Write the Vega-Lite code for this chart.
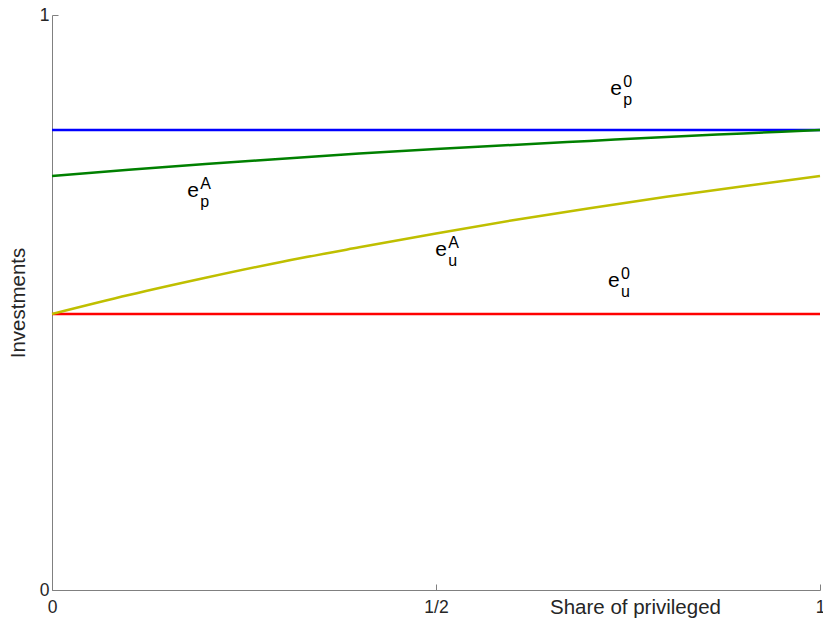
{
  "$schema": "https://vega.github.io/schema/vega-lite/v6.json",
  "width": 768,
  "height": 575,
  "autosize": {"type": "none"},
  "padding": {"left": 52, "top": 15, "right": 3, "bottom": 31},
  "background": "white",
  "config": {
    "view": {"stroke": null},
    "font": "Liberation Sans",
    "axis": {"grid": false, "domainColor": "#808080", "tickColor": "#808080", "labelColor": "#262626", "titleColor": "#262626", "labelFont": "Liberation Sans", "titleFont": "Liberation Sans", "labelFontSize": 17.5, "titleFontSize": 20.5, "titleFontWeight": "normal", "tickSize": -6, "domainWidth": 1, "tickWidth": 1}
  },
  "datasets": {
    "curves": [
      {"x": 0, "y": 0.8, "s": "ep0"}, {"x": 1, "y": 0.8, "s": "ep0"},
      {"x": 0, "y": 0.48, "s": "eu0"}, {"x": 1, "y": 0.48, "s": "eu0"},
      {"x": 0, "y": 0.72, "s": "epA"}, {"x": 0.1, "y": 0.731, "s": "epA"}, {"x": 0.2, "y": 0.741, "s": "epA"}, {"x": 0.3, "y": 0.750, "s": "epA"}, {"x": 0.4, "y": 0.759, "s": "epA"}, {"x": 0.5, "y": 0.767, "s": "epA"}, {"x": 0.6, "y": 0.774, "s": "epA"}, {"x": 0.7, "y": 0.781, "s": "epA"}, {"x": 0.8, "y": 0.788, "s": "epA"}, {"x": 0.9, "y": 0.794, "s": "epA"}, {"x": 1, "y": 0.8, "s": "epA"},
      {"x": 0, "y": 0.48, "s": "euA"}, {"x": 0.1, "y": 0.513, "s": "euA"}, {"x": 0.2, "y": 0.543, "s": "euA"}, {"x": 0.3, "y": 0.571, "s": "euA"}, {"x": 0.4, "y": 0.596, "s": "euA"}, {"x": 0.5, "y": 0.620, "s": "euA"}, {"x": 0.6, "y": 0.643, "s": "euA"}, {"x": 0.7, "y": 0.664, "s": "euA"}, {"x": 0.8, "y": 0.684, "s": "euA"}, {"x": 0.9, "y": 0.702, "s": "euA"}, {"x": 1, "y": 0.72, "s": "euA"}
    ],
    "labels": [
      {"x": 0.727, "y": 0.861, "base": "e", "sup": "0", "sub": "p"},
      {"x": 0.176, "y": 0.683, "base": "e", "sup": "A", "sub": "p"},
      {"x": 0.499, "y": 0.581, "base": "e", "sup": "A", "sub": "u"},
      {"x": 0.724, "y": 0.527, "base": "e", "sup": "0", "sub": "u"}
    ]
  },
  "layer": [
    {
      "data": {"name": "curves"},
      "mark": {"type": "line", "strokeWidth": 2.5, "interpolate": "monotone"},
      "encoding": {
        "x": {"field": "x", "type": "quantitative", "scale": {"domain": [0, 1], "nice": false}, "axis": {"values": [0, 0.5, 1], "labelExpr": "datum.value == 0.5 ? '1/2' : datum.value == 0 ? '0' : '1'", "labelPadding": 14, "labelFlush": false, "title": "Share of privileged", "titleX": 583, "titleY": 17, "titleBaseline": "middle", "titleAnchor": null, "titleAlign": "center"}},
        "y": {"field": "y", "type": "quantitative", "scale": {"domain": [0, 1], "nice": false}, "axis": {"values": [0, 1], "labelExpr": "datum.value == 0 ? '0' : '1'", "labelPadding": 9, "labelFlush": false, "title": "Investments", "titleX": -34, "titleY": 287.5, "titleBaseline": "middle", "titleAnchor": null, "titleAlign": "center", "titleAngle": -90}},
        "color": {"field": "s", "type": "nominal", "scale": {"domain": ["ep0", "epA", "euA", "eu0"], "range": ["#0000ff", "#008000", "#bfbf00", "#ff0000"]}, "legend": null}
      }
    },
    {
      "data": {"name": "labels"},
      "mark": {"type": "text", "align": "left", "baseline": "alphabetic", "fontSize": 21, "color": "#000000"},
      "encoding": {"x": {"field": "x", "type": "quantitative"}, "y": {"field": "y", "type": "quantitative"}, "text": {"field": "base"}}
    },
    {
      "data": {"name": "labels"},
      "mark": {"type": "text", "align": "left", "baseline": "alphabetic", "fontSize": 16, "dx": 13, "dy": -8, "color": "#000000"},
      "encoding": {"x": {"field": "x", "type": "quantitative"}, "y": {"field": "y", "type": "quantitative"}, "text": {"field": "sup"}}
    },
    {
      "data": {"name": "labels"},
      "mark": {"type": "text", "align": "left", "baseline": "alphabetic", "fontSize": 16, "dx": 13, "dy": 10, "color": "#000000"},
      "encoding": {"x": {"field": "x", "type": "quantitative"}, "y": {"field": "y", "type": "quantitative"}, "text": {"field": "sub"}}
    }
  ]
}
